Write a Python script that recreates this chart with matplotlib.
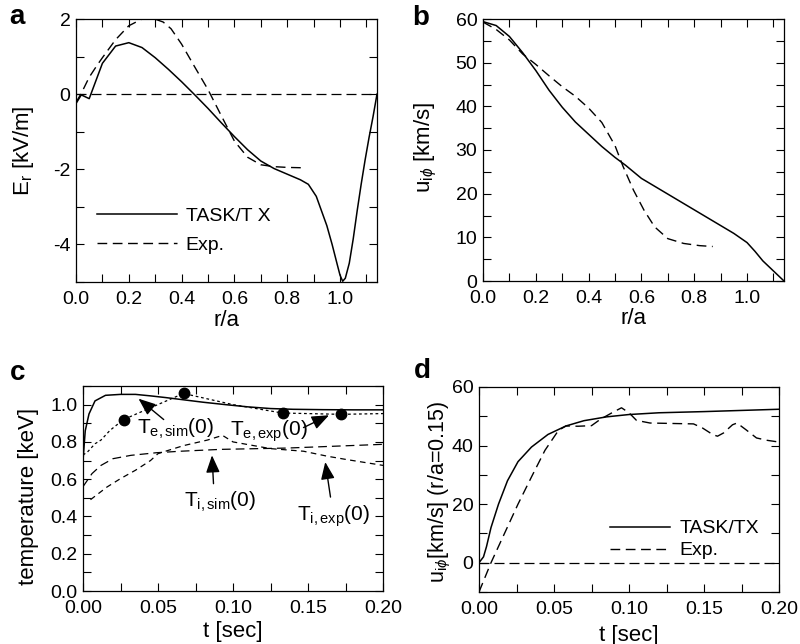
import matplotlib
matplotlib.use("Agg")
import matplotlib.pyplot as plt
from matplotlib.ticker import MultipleLocator, FixedLocator

plt.rcParams['font.family'] = ['Liberation Sans', 'DejaVu Sans']
plt.rcParams['mathtext.fontset'] = 'custom'
plt.rcParams['mathtext.rm'] = 'Liberation Sans'
plt.rcParams['mathtext.it'] = 'Liberation Sans:italic'
plt.rcParams['mathtext.bf'] = 'Liberation Sans:bold'

# ---------------- data ----------------
# panel a : radial electric field
r_a_sim = [0.0, 0.02, 0.05, 0.10, 0.15, 0.20, 0.25, 0.30, 0.35, 0.40, 0.45, 0.50, 0.55,
           0.60, 0.65, 0.70, 0.75, 0.80, 0.85, 0.88, 0.91, 0.95, 0.97, 0.99, 1.0, 1.01,
           1.02, 1.035, 1.05, 1.065, 1.08, 1.095, 1.11, 1.125, 1.14]
Er_sim = [-0.25, -0.02, -0.12, 0.82, 1.28, 1.37, 1.24, 0.97, 0.66, 0.33, -0.02, -0.38, -0.76,
          -1.13, -1.48, -1.78, -1.98, -2.13, -2.28, -2.4, -2.72, -3.5, -4.0, -4.55, -4.82, -4.98,
          -4.9, -4.5, -3.85, -3.1, -2.4, -1.75, -1.15, -0.6, 0.0]
r_a_exp = [0.0, 0.02, 0.05, 0.08, 0.10, 0.15, 0.20, 0.25, 0.29, 0.33, 0.36, 0.40, 0.45, 0.50,
           0.55, 0.60, 0.65, 0.70, 0.75, 0.80, 0.86]
Er_exp = [-0.22, 0.02, 0.45, 0.77, 0.97, 1.45, 1.82, 2.0, 2.02, 1.92, 1.74, 1.33, 0.72, 0.12,
          -0.57, -1.25, -1.68, -1.88, -1.93, -1.95, -1.96]

# panel b : toroidal rotation profile
r_b_sim = [0.0, 0.05, 0.10, 0.15, 0.20, 0.25, 0.30, 0.35, 0.40, 0.45, 0.50, 0.54, 0.60, 0.70,
           0.80, 0.90, 0.95, 1.00, 1.03, 1.06, 1.10, 1.14]
u_b_sim = [59.4, 58.5, 56.0, 52.3, 48.2, 43.7, 39.8, 36.4, 33.6, 30.8, 28.3, 26.5, 23.5, 19.9,
           16.3, 12.7, 10.9, 8.8, 6.8, 4.6, 2.3, 0.0]
r_b_exp = [0.0, 0.05, 0.10, 0.15, 0.20, 0.25, 0.30, 0.35, 0.40, 0.45, 0.50, 0.53, 0.57, 0.61,
           0.65, 0.70, 0.76, 0.82, 0.87]
u_b_exp = [59.3, 57.6, 55.2, 52.0, 49.6, 47.0, 44.5, 42.3, 39.6, 36.3, 31.0, 26.3, 20.8, 16.2,
           12.4, 9.7, 8.6, 8.1, 7.9]

# panel c : central temperatures vs time
t_te_sim = [0.0, 0.0015, 0.004, 0.008, 0.015, 0.025, 0.035, 0.045, 0.055, 0.065, 0.08, 0.095,
            0.11, 0.125, 0.14, 0.16, 0.18, 0.2]
Te_sim = [0.70, 0.86, 0.95, 1.02, 1.05, 1.055, 1.055, 1.047, 1.038, 1.028, 1.013, 1.0, 0.988,
          0.979, 0.975, 0.973, 0.972, 0.972]
t_te_exp_line = [0.0, 0.003, 0.008, 0.012, 0.018, 0.027, 0.047, 0.067, 0.10, 0.133, 0.172, 0.2]
Te_exp_line = [0.73, 0.746, 0.79, 0.81, 0.862, 0.92, 0.99, 1.06, 1.0, 0.955, 0.948, 0.952]
t_te_exp_pts = [0.027, 0.067, 0.133, 0.172]
Te_exp_pts = [0.92, 1.06, 0.955, 0.948]
t_ti_sim = [0.0, 0.006, 0.012, 0.02, 0.032, 0.049, 0.065, 0.092, 0.136, 0.2]
Ti_sim = [0.56, 0.63, 0.674, 0.71, 0.728, 0.742, 0.75, 0.76, 0.767, 0.787]
t_ti_exp = [0.005, 0.016, 0.025, 0.035, 0.045, 0.05, 0.057, 0.067, 0.083, 0.093, 0.1, 0.125,
            0.147, 0.163, 0.176, 0.2]
Ti_exp = [0.49, 0.558, 0.603, 0.648, 0.70, 0.737, 0.755, 0.78, 0.81, 0.835, 0.80, 0.764, 0.75,
          0.723, 0.705, 0.674]

# panel d : rotation at r/a = 0.15 vs time
t_d_sim = [0.0, 0.003, 0.005, 0.008, 0.013, 0.019, 0.026, 0.035, 0.046, 0.058, 0.07, 0.085,
           0.1, 0.12, 0.15, 0.2]
u_d_sim = [0.0, 2.0, 5.5, 12.0, 20.0, 28.0, 34.5, 39.5, 43.8, 46.7, 48.5, 49.8, 50.6, 51.2,
           51.6, 52.4]
t_d_exp = [0.0, 0.008, 0.017, 0.026, 0.035, 0.044, 0.053, 0.058, 0.066, 0.075, 0.081, 0.089,
           0.095, 0.1, 0.105, 0.114, 0.143, 0.149, 0.156, 0.159, 0.163, 0.169, 0.172, 0.178,
           0.185, 0.192, 0.2]
u_d_exp = [-10, 0, 10, 20, 29.3, 38.4, 45.2, 46.7, 46.6, 46.8, 49, 51.3, 52.9, 51.2, 48.6,
           47.7, 47.4, 46, 43.7, 43.2, 44.3, 47.1, 47.7, 45.4, 42.6, 41.8, 41.2]

# ---------------- figure ----------------
fig = plt.figure(figsize=(8.0, 6.44), dpi=100)
W, H = 800.0, 644.0

def make_ax(l, r, t, b):
    return fig.add_axes([l / W, 1 - b / H, (r - l) / W, (b - t) / H])

ax_a = make_ax(76, 377, 19, 282)
ax_b = make_ax(483, 784, 19, 281)
ax_c = make_ax(83, 383, 386, 591)
ax_d = make_ax(479, 779, 387, 592)

def style(ax):
    ax.tick_params(which='both', direction='in', top=True, right=True, length=6, width=0.8,
                   labelsize=14)
    ax.tick_params(axis='x', pad=6.5)
    ax.tick_params(axis='y', pad=4)
    for s in ax.spines.values():
        s.set_linewidth(0.9)

DASH = (0, (7, 4))

# panel a
ax_a.plot(r_a_sim, Er_sim, color='k', lw=1.1, label='TASK/T X')
ax_a.plot(r_a_exp, Er_exp, color='k', lw=1.0, linestyle=DASH, label='Exp.')
ax_a.axhline(0, color='k', lw=0.9, linestyle=(0, (8, 4)))
ax_a.set_xlim(0, 1.14)
ax_a.set_ylim(-5, 2)
ax_a.xaxis.set_major_locator(FixedLocator([0.0, 0.2, 0.4, 0.6, 0.8, 1.0]))
ax_a.xaxis.set_minor_locator(MultipleLocator(0.1))
ax_a.yaxis.set_major_locator(FixedLocator([-4, -2, 0, 2]))
ax_a.yaxis.set_minor_locator(MultipleLocator(1))
ax_a.set_yticklabels(['-4', '-2', '0', '2'])
ax_a.set_xticklabels(['0.0', '0.2', '0.4', '0.6', '0.8', '1.0'])
style(ax_a)
ax_a.set_xlabel('r/a', fontsize=16, va='center')
ax_a.xaxis.set_label_coords(0.5, -0.145)
ax_a.set_ylabel(r'E$_\mathrm{r}$ [kV/m]', fontsize=16, va='center')
ax_a.yaxis.set_label_coords(-0.176, 0.5)
ax_a.legend(loc='upper left', bbox_to_anchor=(0.07, 0.285), frameon=False, fontsize=14,
            handlelength=4.1, handletextpad=0.45, labelspacing=0.6, borderpad=0,
            borderaxespad=0)

# panel b
ax_b.plot(r_b_sim, u_b_sim, color='k', lw=1.1)
ax_b.plot(r_b_exp, u_b_exp, color='k', lw=1.0, linestyle=DASH)
ax_b.set_xlim(0, 1.14)
ax_b.set_ylim(0, 60)
ax_b.xaxis.set_major_locator(FixedLocator([0.0, 0.2, 0.4, 0.6, 0.8, 1.0]))
ax_b.xaxis.set_minor_locator(MultipleLocator(0.1))
ax_b.set_xticklabels(['0.0', '0.2', '0.4', '0.6', '0.8', '1.0'])
ax_b.yaxis.set_major_locator(MultipleLocator(10))
ax_b.yaxis.set_minor_locator(MultipleLocator(5))
style(ax_b)
ax_b.set_xlabel('r/a', fontsize=16, va='center')
ax_b.xaxis.set_label_coords(0.5, -0.145)
ax_b.set_ylabel(r'u$_{\mathrm{i}\phi}$ [km/s]', fontsize=16, va='center')
ax_b.yaxis.set_label_coords(-0.19, 0.51)

# panel c
ax_c.plot(t_te_sim, Te_sim, color='k', lw=1.1)
ax_c.plot(t_te_exp_line, Te_exp_line, color='k', lw=0.9, linestyle=(0, (2.2, 2.2)))
ax_c.plot(t_te_exp_pts, Te_exp_pts, 'o', color='k', markersize=7.5)
ax_c.plot(t_ti_sim, Ti_sim, color='k', lw=0.9, linestyle=(0, (7, 4)))
ax_c.plot(t_ti_exp, Ti_exp, color='k', lw=0.9, linestyle=(0, (4.5, 3.5)))
ax_c.set_xlim(0, 0.2)
ax_c.set_ylim(0, 1.1)
ax_c.xaxis.set_major_locator(FixedLocator([0.0, 0.05, 0.10, 0.15, 0.20]))
ax_c.xaxis.set_minor_locator(MultipleLocator(0.025))
ax_c.set_xticklabels(['0.00', '0.05', '0.10', '0.15', '0.20'])
ax_c.yaxis.set_major_locator(FixedLocator([0.0, 0.2, 0.4, 0.6, 0.8, 1.0]))
ax_c.yaxis.set_minor_locator(MultipleLocator(0.1))
ax_c.set_yticklabels(['0.0', '0.2', '0.4', '0.6', '0.8', '1.0'])
style(ax_c)
ax_c.set_xlabel('t [sec]', fontsize=16, va='center')
ax_c.xaxis.set_label_coords(0.5, -0.2)
ax_c.set_ylabel('temperature [keV]', fontsize=16, va='center')
ax_c.yaxis.set_label_coords(-0.183, 0.46)

arr = dict(arrowstyle='-|>,head_length=0.7,head_width=0.28', color='k', lw=1.0,
           mutation_scale=15, shrinkA=0, shrinkB=0)
ax_c.text(0.036, 0.845, r'T$_{\mathrm{e,sim}}$(0)', fontsize=15, va='baseline')
ax_c.annotate('', xy=(0.037, 1.032), xytext=(0.0538, 0.92), arrowprops=arr)
ax_c.text(0.098, 0.835, r'T$_{\mathrm{e,exp}}$(0)', fontsize=15, va='baseline')
ax_c.annotate('', xy=(0.164, 0.943), xytext=(0.147, 0.877), arrowprops=arr)
ax_c.text(0.067, 0.451, r'T$_{\mathrm{i,sim}}$(0)', fontsize=15, va='baseline')
ax_c.annotate('', xy=(0.086, 0.728), xytext=(0.087, 0.576), arrowprops=arr)
ax_c.text(0.1427, 0.379, r'T$_{\mathrm{i,exp}}$(0)', fontsize=15, va='baseline')
ax_c.annotate('', xy=(0.1615, 0.692), xytext=(0.165, 0.504), arrowprops=arr)

# panel d
ax_d.plot(t_d_sim, u_d_sim, color='k', lw=1.1, label='TASK/TX')
ax_d.plot(t_d_exp, u_d_exp, color='k', lw=1.0, linestyle=DASH, label='Exp.')
ax_d.axhline(0, color='k', lw=0.9, linestyle=(0, (8, 4)))
ax_d.set_xlim(0, 0.2)
ax_d.set_ylim(-10, 60)
ax_d.xaxis.set_major_locator(FixedLocator([0.0, 0.05, 0.10, 0.15, 0.20]))
ax_d.xaxis.set_minor_locator(MultipleLocator(0.025))
ax_d.set_xticklabels(['0.00', '0.05', '0.10', '0.15', '0.20'])
ax_d.yaxis.set_major_locator(FixedLocator([0, 20, 40, 60]))
ax_d.yaxis.set_minor_locator(MultipleLocator(10))
style(ax_d)
ax_d.set_xlabel('t [sec]', fontsize=16, va='center')
ax_d.xaxis.set_label_coords(0.5, -0.21)
ax_d.set_ylabel(r'u$_{\mathrm{i}\phi}$[km/s] (r/a=0.15)', fontsize=15.5, va='center')
ax_d.yaxis.set_label_coords(-0.13, 0.49)
ax_d.legend(loc='upper left', bbox_to_anchor=(0.437, 0.352), frameon=False, fontsize=14,
            handlelength=3.1, handletextpad=0.45, labelspacing=0.22, borderpad=0,
            borderaxespad=0)

# panel letters
for txt, x, y in [('a', 17, 17), ('b', 421, 18), ('c', 18, 373), ('d', 422, 371)]:
    fig.text(x / W, 1 - y / H, txt, fontsize=20, fontweight='bold', ha='center', va='center')

fig.savefig('out.png', dpi=100)
